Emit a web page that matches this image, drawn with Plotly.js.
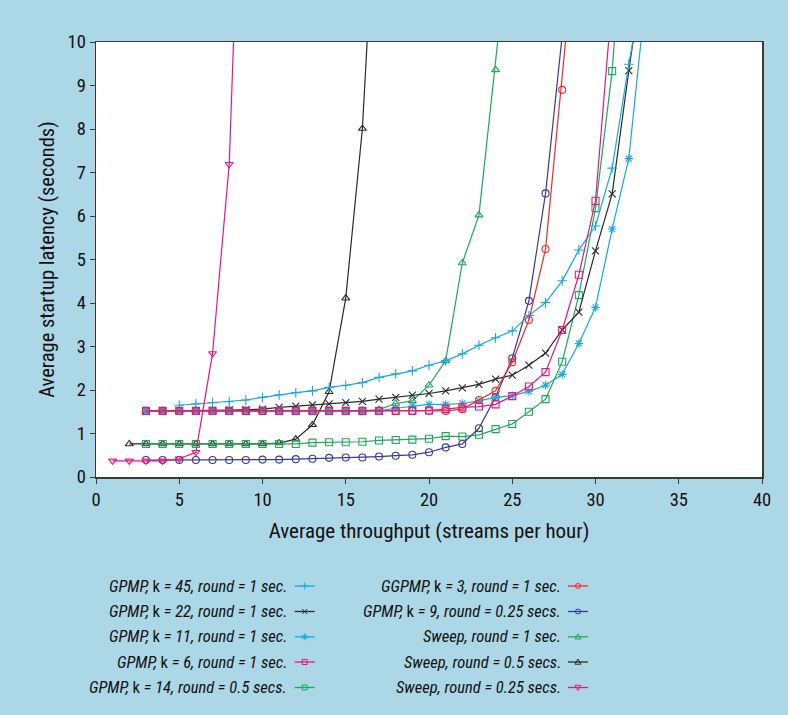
<!DOCTYPE html>
<html>
<head>
<meta charset="utf-8">
<script src="https://cdn.plot.ly/plotly-3.0.1.min.js"></script>
<style>html,body{margin:0;padding:0;background:#ABD7E6;}#chart{width:788px;height:715px;}</style>
</head>
<body>
<div id="chart"></div>
<script>
// ---- Data ----
var seriesNames = [
  "GPMP, k = 45, round = 1 sec.",
  "GPMP, k = 22, round = 1 sec.",
  "GPMP, k = 11, round = 1 sec.",
  "GPMP, k = 6, round = 1 sec.",
  "GPMP, k = 14, round = 0.5 secs.",
  "GGPMP, k = 3, round = 1 sec.",
  "GPMP, k = 9, round = 0.25 secs.",
  "Sweep, round = 1 sec.",
  "Sweep, round = 0.5 secs.",
  "Sweep, round = 0.25 secs."
];
var xStart = [5, 3, 3, 3, 3, 3, 3, 3, 2, 1];
var gpmpK45 = [1.65,1.68,1.71,1.73,1.77,1.83,1.89,1.94,1.98,2.06,2.11,2.17,2.29,2.37,2.44,2.57,2.67,2.83,3.03,3.20,3.36,3.71,4.01,4.51,5.22,5.77,7.10,9.49,11.6];
var gpmpK22 = [1.52,1.52,1.52,1.52,1.53,1.54,1.55,1.56,1.60,1.63,1.66,1.68,1.71,1.74,1.79,1.83,1.88,1.92,1.98,2.05,2.13,2.25,2.34,2.57,2.85,3.38,3.79,5.20,6.51,9.34,12.0];
var gpmpK11 = [1.52,1.52,1.52,1.52,1.52,1.52,1.52,1.52,1.52,1.52,1.52,1.52,1.52,1.52,1.52,1.58,1.63,1.67,1.67,1.69,1.75,1.83,1.87,1.97,2.11,2.36,3.07,3.90,5.70,7.32,11.0];
var gpmpK6  = [1.52,1.52,1.52,1.52,1.52,1.52,1.52,1.52,1.52,1.52,1.52,1.52,1.52,1.52,1.52,1.52,1.52,1.53,1.56,1.60,1.62,1.67,1.86,2.08,2.41,3.38,4.65,6.35,11.0];
var gpmpK14 = [0.76,0.76,0.76,0.76,0.76,0.76,0.76,0.76,0.76,0.76,0.79,0.80,0.80,0.81,0.84,0.85,0.86,0.88,0.94,0.93,0.97,1.10,1.22,1.50,1.79,2.65,4.18,6.18,9.33,14.5];
var ggpmpK3 = [1.52,1.52,1.52,1.52,1.52,1.52,1.52,1.52,1.52,1.52,1.52,1.52,1.52,1.52,1.52,1.52,1.52,1.52,1.52,1.56,1.77,1.98,2.64,3.61,5.24,8.90,13.2];
var gpmpK9  = [0.39,0.39,0.39,0.39,0.39,0.39,0.39,0.40,0.40,0.41,0.42,0.44,0.45,0.45,0.47,0.49,0.51,0.57,0.68,0.76,1.12,1.84,2.73,4.05,6.52,10.15];
var sweep1  = [1.52,1.52,1.52,1.52,1.52,1.52,1.52,1.52,1.52,1.52,1.52,1.52,1.52,1.52,1.55,1.69,1.75,2.11,2.67,4.92,6.02,9.36,13.1];
var sweep05 = [0.76,0.76,0.76,0.76,0.76,0.76,0.76,0.76,0.76,0.78,0.87,1.20,1.96,4.11,8.01,15.0];
var sweep025= [0.37,0.37,0.37,0.37,0.42,0.57,2.84,7.19,18.0];
var seriesValues = [gpmpK45, gpmpK22, gpmpK11, gpmpK6, gpmpK14, ggpmpK3, gpmpK9, sweep1, sweep05, sweep025];
var xTicks = [0,5,10,15,20,25,30,35,40];
var yTicks = [0,1,2,3,4,5,6,7,8,9,10];

// ---- Styles ----
var colors  = ["#18A8E2","#2A2A2A","#18A8E2","#E6197F","#1EA95A","#EE2D2D","#3A3A9C","#1EA95A","#2A2A2A","#E6197F"];
var symbols = ["cross-thin-open","x-thin-open","asterisk-open","square-open","square-open","circle-open","circle-open","triangle-up-open","triangle-up-open","triangle-down-open"];
var drawOrder = [8,7,4,6,1,0,2,5,3,9];

var FONT = "'Roboto Condensed','Liberation Sans Narrow',Roboto,sans-serif";

var traces = drawOrder.map(function(i){
  var ys = seriesValues[i];
  var xs = ys.map(function(_, j){ return xStart[i] + j; });
  return {
    x: xs, y: ys, type: 'scatter', mode: 'lines+markers', name: seriesNames[i],
    showlegend: false,
    line: {color: colors[i], width: 1.2},
    marker: {symbol: symbols[i], size: 7, color: colors[i], line: {color: colors[i], width: 1.1}},
    cliponaxis: true
  };
});

// ---- Custom legend (text on the left, sample on the right) ----
var legendCols = [{tx: 0.2898, sx: 0.3133}, {tx: 0.7006, sx: 0.7237}];
var legendRows = [-0.2506, -0.3092, -0.3674, -0.4253, -0.4839];
var symPath = {
  "cross-thin-open": "M-3.5,0H3.5M0,-3.5V3.5",
  "x-thin-open": "M-2.5,-2.5L2.5,2.5M-2.5,2.5L2.5,-2.5",
  "asterisk-open": "M-3.5,0H3.5M0,-3.5V3.5M-2.5,-2.5L2.5,2.5M-2.5,2.5L2.5,-2.5",
  "square-open": "M-2.5,-2.5H2.5V2.5H-2.5Z",
  "triangle-up-open": "M-3,-2.2L3,-2.2L0,3Z",
  "triangle-down-open": "M-3,2.2L3,2.2L0,-3Z"
};
function italicName(s){
  var m = s.match(/^(.*?, )k( = .*)$/);
  if (m) return "<i>" + m[1] + "</i>k<i>" + m[2] + "</i>";
  return "<i>" + s + "</i>";
}
var annotations = [], shapes = [];
for (var i = 0; i < seriesNames.length; i++) {
  var col = legendCols[i < 5 ? 0 : 1], yy = legendRows[i % 5];
  annotations.push({xref:'paper', yref:'paper', x: col.tx, y: yy, xanchor:'right', yanchor:'middle',
    text: italicName(seriesNames[i]), showarrow:false, font:{family:FONT, size:16.5, color:'#111'}});
  shapes.push({type:'line', xref:'paper', yref:'paper', xsizemode:'pixel', ysizemode:'pixel',
    xanchor: col.sx, yanchor: yy, x0:-10, x1:10, y0:0, y1:0, line:{color:colors[i], width:1.3}});
  if (symbols[i] === 'circle-open') {
    shapes.push({type:'circle', xref:'paper', yref:'paper', xsizemode:'pixel', ysizemode:'pixel',
      xanchor: col.sx, yanchor: yy, x0:-2.5, x1:2.5, y0:-2.5, y1:2.5, line:{color:colors[i], width:1}});
  } else {
    shapes.push({type:'path', xref:'paper', yref:'paper', xsizemode:'pixel', ysizemode:'pixel',
      xanchor: col.sx, yanchor: yy, path: symPath[symbols[i]], line:{color:colors[i], width:1}});
  }
}

var axisCommon = {
  showline: true, linecolor: '#3a3a3a', linewidth: 1.5, mirror: true,
  ticks: 'outside', ticklen: 5, tickcolor: '#3a3a3a', tickwidth: 1,
  showgrid: false, zeroline: false,
  tickfont: {family: FONT, size: 18.5, color: '#111'}
};

var layout = {
  width: 788, height: 715,
  paper_bgcolor: '#ABD7E6', plot_bgcolor: '#FFFFFF',
  margin: {l: 96, r: 26, t: 42, b: 238},
  showlegend: false,
  xaxis: Object.assign({}, axisCommon, {
    range: [0, 40], tickvals: xTicks, ticktext: xTicks.map(String),
    title: {text: 'Average throughput (streams per hour)', font: {family: FONT, size: 21, color: '#111'}, standoff: 13}
  }),
  yaxis: Object.assign({}, axisCommon, {
    range: [0, 10], tickvals: yTicks, ticktext: yTicks.map(String),
    title: {text: 'Average startup latency (seconds)', font: {family: FONT, size: 20.5, color: '#111'}, standoff: 7}
  }),
  annotations: annotations,
  shapes: shapes
};

Plotly.newPlot('chart', traces, layout, {displayModeBar: false, staticPlot: true});
</script>
</body>
</html>
